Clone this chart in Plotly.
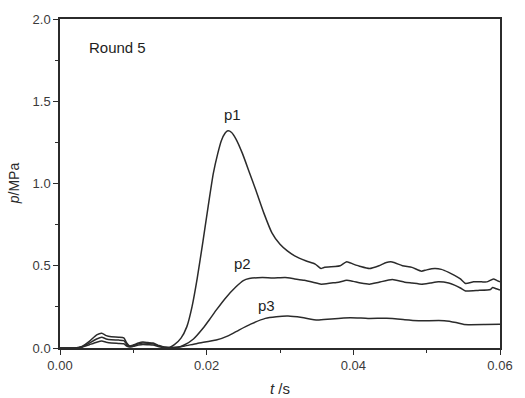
import plotly.graph_objects as go

p1_t = [0, 0.002, 0.003, 0.004, 0.005, 0.0057, 0.0063, 0.007, 0.008, 0.0087, 0.0091, 0.0095, 0.010, 0.0107,
        0.0113, 0.012, 0.0127, 0.0135, 0.0142, 0.015, 0.0156, 0.0165, 0.0173, 0.018, 0.0187, 0.0195, 0.0202,
        0.0209, 0.0215, 0.022, 0.0225, 0.0229, 0.0234, 0.024, 0.0249, 0.0258, 0.0267, 0.0278, 0.0289, 0.030,
        0.031, 0.032, 0.0335, 0.0348, 0.0356, 0.036, 0.0375, 0.0382, 0.0391, 0.040, 0.041, 0.0422, 0.0435,
        0.0445, 0.0453, 0.0467, 0.048, 0.0493, 0.050, 0.0511, 0.052, 0.053, 0.0538, 0.0546, 0.0553, 0.0564,
        0.0575, 0.0582, 0.0591, 0.0596, 0.06]
p1_p = [0, 0, 0.01, 0.04, 0.08, 0.09, 0.075, 0.068, 0.066, 0.062, 0.03, 0.012, 0.018, 0.03,
        0.036, 0.033, 0.03, 0.015, 0.006, 0.005, 0.02, 0.06, 0.13, 0.25, 0.42, 0.65, 0.86,
        1.06, 1.18, 1.26, 1.305, 1.32, 1.31, 1.27, 1.18, 1.07, 0.96, 0.82, 0.70, 0.63,
        0.59, 0.56, 0.53, 0.51, 0.483, 0.49, 0.495, 0.50, 0.525, 0.51, 0.495, 0.483, 0.50,
        0.52, 0.523, 0.50, 0.49, 0.467, 0.475, 0.483, 0.478, 0.46, 0.442, 0.42, 0.392, 0.402,
        0.402, 0.402, 0.42, 0.41, 0.402]

p2_t = [0, 0.002, 0.003, 0.004, 0.005, 0.0057, 0.0063, 0.007, 0.008, 0.0087, 0.0091, 0.0095, 0.010, 0.0107,
        0.0113, 0.012, 0.0127, 0.0135, 0.0142, 0.015, 0.016, 0.017, 0.0182, 0.0195, 0.0205, 0.0213, 0.0225,
        0.024, 0.025, 0.0258, 0.0276, 0.029, 0.0307, 0.032, 0.0333, 0.0345, 0.0356, 0.037, 0.038, 0.0391,
        0.040, 0.041, 0.0422, 0.0435, 0.0453, 0.047, 0.048, 0.0493, 0.0505, 0.0516, 0.053, 0.0538, 0.0546,
        0.0553, 0.057, 0.0587, 0.059, 0.0595, 0.06]
p2_p = [0, 0, 0.008, 0.03, 0.055, 0.065, 0.055, 0.05, 0.048, 0.045, 0.022, 0.01, 0.015, 0.025,
        0.03, 0.028, 0.025, 0.012, 0.004, 0.003, 0.004, 0.02, 0.055, 0.12, 0.18, 0.23, 0.30,
        0.372, 0.41, 0.422, 0.428, 0.425, 0.428, 0.42, 0.412, 0.40, 0.388, 0.395, 0.40, 0.412,
        0.405, 0.395, 0.388, 0.40, 0.416, 0.40, 0.395, 0.388, 0.395, 0.402, 0.395, 0.382, 0.365,
        0.347, 0.35, 0.356, 0.368, 0.36, 0.352]

p3_t = [0, 0.002, 0.003, 0.004, 0.005, 0.0057, 0.0063, 0.007, 0.008, 0.0087, 0.0091, 0.0095, 0.010, 0.0107,
        0.0113, 0.012, 0.0127, 0.0135, 0.0142, 0.015, 0.016, 0.017, 0.0187, 0.0213, 0.023, 0.0244, 0.026,
        0.028, 0.0295, 0.0311, 0.033, 0.0351, 0.037, 0.0396, 0.042, 0.0453, 0.047, 0.0489, 0.0524, 0.054,
        0.0551, 0.058, 0.06]
p3_p = [0, 0, 0.005, 0.02, 0.035, 0.042, 0.035, 0.03, 0.028, 0.026, 0.012, 0.006, 0.01, 0.018,
        0.022, 0.02, 0.018, 0.008, 0.002, 0.002, 0.004, 0.012, 0.028, 0.048, 0.075, 0.109, 0.145,
        0.18, 0.19, 0.194, 0.185, 0.17, 0.177, 0.184, 0.18, 0.18, 0.172, 0.166, 0.166, 0.155,
        0.143, 0.143, 0.145]

labels = ["p1", "p2", "p3"]
label_pos = [(0.0235, 1.42), (0.0249, 0.513), (0.0282, 0.26)]

ink = "#2b2b2b"
font = "Liberation Sans, Arial, sans-serif"

fig = go.Figure()
for t, p, name in [(p1_t, p1_p, "p1"), (p2_t, p2_p, "p2"), (p3_t, p3_p, "p3")]:
    fig.add_trace(go.Scatter(x=t, y=p, mode="lines", name=name,
                             line=dict(color=ink, width=1.5, shape="spline", smoothing=0.5),
                             showlegend=False))

for name, (lx, ly) in zip(labels, label_pos):
    fig.add_annotation(x=lx, y=ly, text=name, showarrow=False,
                       font=dict(family=font, size=15, color="#1e1e1e"))

fig.add_annotation(x=0.0037, y=1.824, text="Round 5", showarrow=False, xanchor="left",
                   font=dict(family=font, size=15, color="#1e1e1e"))

axis_common = dict(showline=True, linecolor=ink, linewidth=1.5, mirror=True,
                   ticks="outside", ticklen=5, tickwidth=1.3, tickcolor=ink,
                   showgrid=False, zeroline=False,
                   tickfont=dict(family=font, size=13, color="#3a3a3a"))

fig.update_xaxes(range=[0, 0.06], tickvals=[0, 0.02, 0.04, 0.06],
                 ticktext=["0.00", "0.02", "0.04", "0.06"],
                 minor=dict(ticks="outside", ticklen=3, tickcolor=ink, tickvals=[0.01, 0.03, 0.05]),
                 **axis_common)
fig.update_yaxes(range=[0, 2.0], tickvals=[0, 0.5, 1.0, 1.5, 2.0],
                 ticktext=["0.0", "0.5", "1.0", "1.5", "2.0"],
                 minor=dict(ticks="outside", ticklen=3, tickcolor=ink, tickvals=[0.25, 0.75, 1.25, 1.75]),
                 **axis_common)

fig.add_annotation(xref="paper", yref="paper", x=0.5, y=-0.092, yanchor="top", xanchor="center",
                   text="<i>t</i> /s", showarrow=False,
                   font=dict(family=font, size=15, color="#2b2b2b"))
fig.add_annotation(xref="paper", yref="paper", x=-0.105, y=0.5, textangle=-90,
                   xanchor="center", yanchor="middle",
                   text="<i>p</i>/MPa", showarrow=False,
                   font=dict(family=font, size=14, color="#2b2b2b"))

fig.update_layout(width=525, height=398, margin=dict(l=60, r=15, t=18, b=50),
                  plot_bgcolor="white", paper_bgcolor="white")

fig.write_html("out.html")
